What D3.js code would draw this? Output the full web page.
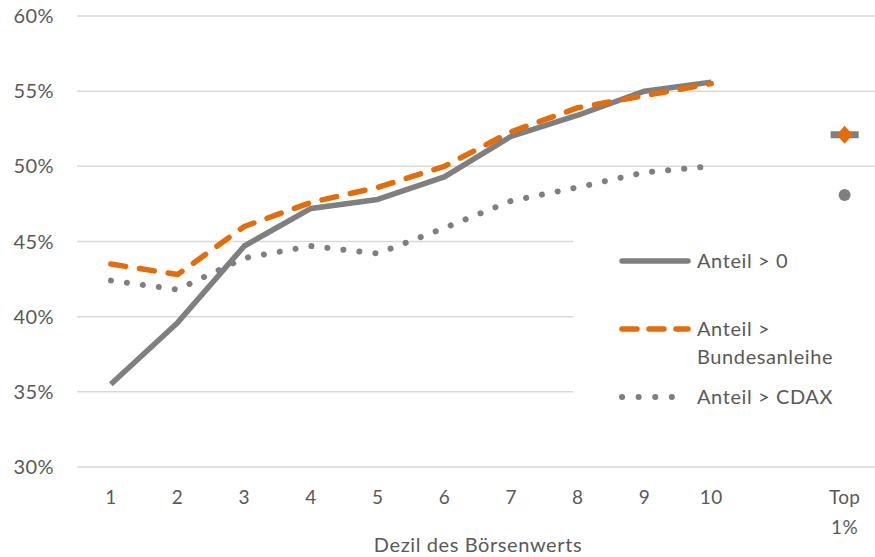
<!DOCTYPE html>
<html><head><meta charset="utf-8">
<script src="https://cdn.jsdelivr.net/npm/d3@7"></script>
<style>body{margin:0;background:#fff}svg{display:block}text{font-family:Lato,"Open Sans",sans-serif;fill:#595959}</style>
</head><body><svg id="c" width="875" height="557"></svg>
<script>
const categories = ["1","2","3","4","5","6","7","8","9","10","","Top 1%"];
const deciles = ["1","2","3","4","5","6","7","8","9","10"];
const anteil0 = [35.5, 39.6, 44.7, 47.2, 47.8, 49.3, 52.0, 53.4, 55.0, 55.6];
const anteilBund = [43.5, 42.8, 46.0, 47.6, 48.6, 50.0, 52.3, 53.9, 54.7, 55.5];
const anteilCdax = [42.4, 41.8, 43.9, 44.7, 44.2, 45.9, 47.7, 48.6, 49.6, 50.0];
const top1 = {anteil0: 52.1, anteilBund: 52.1, anteilCdax: 48.1};
const yTicks = [30, 35, 40, 45, 50, 55, 60];

const svg = d3.select("#c");
const x = d3.scaleBand().domain(categories).range([77.5, 878]);
const cx = c => x(c) + x.bandwidth() / 2;
const y = d3.scaleLinear().domain([30, 60]).range([467, 16]);
const gray = "#7f7f7f", orange = "#e46c0a";

// gridlines
svg.append("g").selectAll("line").data(yTicks).join("line")
  .attr("x1", 77).attr("x2", 875)
  .attr("y1", d => y(d)).attr("y2", d => y(d))
  .attr("stroke", "#d9d9d9").attr("stroke-width", 1.5);

// y labels
svg.append("g").selectAll("text").data(yTicks).join("text")
  .attr("x", 54).attr("y", d => y(d)).attr("dy", "0.35em")
  .attr("text-anchor", "end").attr("font-size", 20).attr("letter-spacing", 0.4).text(d => d + "%");

// x labels
const xl = svg.append("g");
categories.forEach(c => {
  if (!c) return;
  const parts = c.split(" ");
  parts.forEach((p, i) => {
    xl.append("text").attr("x", cx(c)).attr("y", 497 + i * 30).attr("dy", "0.35em")
      .attr("text-anchor", "middle").attr("font-size", 19).attr("letter-spacing", 0.4).text(p);
  });
});
svg.append("text").attr("x", 478).attr("y", 545).attr("dy", "0.35em")
  .attr("text-anchor", "middle").attr("font-size", 20).attr("letter-spacing", 0.6).text("Dezil des Börsenwerts");

// legend background
svg.append("rect").attr("x", 573).attr("y", 230).attr("width", 302).attr("height", 192).attr("fill", "#fff");

const line = d3.line().x((d, i) => cx(deciles[i])).y(d => y(d));
const styles = [
  {data: anteilCdax, color: gray, dash: "0.1,16", name: ["Anteil > CDAX"], ly: 397},
  {data: anteil0, color: gray, dash: null, name: ["Anteil > 0"], ly: 261},
  {data: anteilBund, color: orange, dash: "15,14", name: ["Anteil >", "Bundesanleihe"], ly: 329},
];
styles.forEach(s => {
  const dotted = s.dash === "0.1,16";
  svg.append("path").datum(s.data).attr("d", line).attr("fill", "none")
    .attr("stroke", s.color).attr("stroke-width", dotted ? 6 : 5.5)
    .attr("stroke-linecap", s.dash ? "round" : "butt").attr("stroke-linejoin", "round")
    .attr("stroke-dasharray", s.dash);
  svg.append("line").attr("x1", 622).attr("x2", 688)
    .attr("y1", s.ly).attr("y2", s.ly).attr("stroke", s.color)
    .attr("stroke-width", dotted ? 6 : 5.5).attr("stroke-linecap", "round")
    .attr("stroke-dasharray", dotted ? "0.1,16.5" : (s.dash ? "15,12" : null));
  s.name.forEach((t, i) => svg.append("text").attr("x", 697).attr("y", s.ly + i * 28).attr("dy", "0.35em")
    .attr("font-size", 20).attr("letter-spacing", 0.6).text(t));
});

// Top 1% markers
const tx = cx("Top 1%");
svg.append("rect").attr("x", tx - 14).attr("y", y(top1.anteil0) - 3.5).attr("width", 28).attr("height", 7).attr("fill", gray);
svg.append("path").attr("transform", `translate(${tx},${y(top1.anteilBund)})`)
  .attr("d", "M0,-9L8,0L0,9L-8,0Z").attr("fill", orange);
svg.append("circle").attr("cx", tx).attr("cy", y(top1.anteilCdax)).attr("r", 6).attr("fill", gray);
</script></body></html>
